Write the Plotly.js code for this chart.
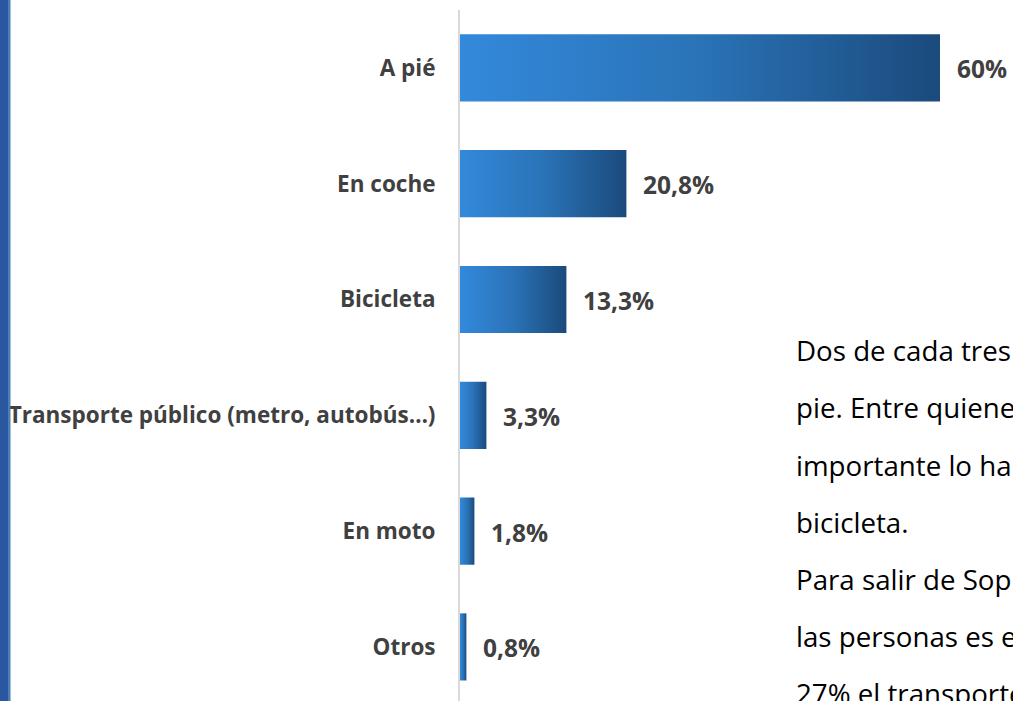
<!DOCTYPE html>
<html>
<head>
<meta charset="utf-8">
<script src="https://cdn.plot.ly/plotly-3.0.1.min.js"></script>
<style>
html,body{margin:0;padding:0;background:#fff;overflow:hidden;}
#chart{width:1013px;height:701px;}
</style>
</head>
<body>
<div id="chart"></div>
<script>
const categories = ["A pié", "En coche", "Bicicleta", "Transporte público (metro, autobús…)", "En moto", "Otros"];
const values = [60, 20.8, 13.3, 3.3, 1.8, 0.8];
const valueLabels = ["60%", "20,8%", "13,3%", "3,3%", "1,8%", "0,8%"];
const sideText = ["Dos de cada tres", "pie. Entre quiene", "importante lo ha", "bicicleta.", "Para salir de Sop", "las personas es e", "27% el transporte"];

const W = 1013, H = 701, L = 460, T = 10, B = 0, R = 0;
const plotW = W - L - R, plotH = H - T - B;

const trace = {
  type: 'bar',
  orientation: 'h',
  y: categories,
  x: values,
  marker: {color: '#2b74b8', line: {width: 0}},
  hoverinfo: 'none'
};

const annotations = values.map((v, i) => ({
  x: v, y: categories[i], xref: 'x', yref: 'y',
  text: '<b>' + valueLabels[i] + '</b>',
  showarrow: false, xanchor: 'left', yanchor: 'middle', xshift: 15, yshift: -1,
  font: {family: 'Open Sans', size: 24.5, color: '#404040'}
}));

const lineTops = [350, 407, 465, 522, 579, 636, 693];
sideText.forEach((t, i) => {
  annotations.push({
    xref: 'paper', yref: 'paper',
    x: (794 - L) / plotW, y: 1 - (lineTops[i] - T) / plotH,
    text: t, showarrow: false, xanchor: 'left', yanchor: 'middle',
    font: {family: 'Open Sans', size: 27.7, color: '#000000'}
  });
});

const layout = {
  width: W, height: H,
  margin: {l: L, r: R, t: T, b: B, pad: 0},
  paper_bgcolor: '#ffffff', plot_bgcolor: '#ffffff',
  bargap: 0.42,
  showlegend: false,
  xaxis: {range: [0, 69.125], visible: false, fixedrange: true},
  yaxis: {
    type: 'category',
    range: [5.467, -0.5],
    showline: true, linecolor: '#d9d9d9', linewidth: 2,
    showgrid: false, zeroline: false,
    ticks: '', ticklabelstandoff: 18,
    tickfont: {family: 'Open Sans', size: 22.5, color: '#404040', weight: 'bold'},
    fixedrange: true
  },
  annotations: annotations,
  shapes: [
    {type: 'rect', xref: 'paper', yref: 'paper', x0: (0 - L) / plotW, x1: (8 - L) / plotW, y0: -0.05, y1: 1.05,
     fillcolor: '#2b57a0', line: {width: 0}, layer: 'above'},
    {type: 'rect', xref: 'paper', yref: 'paper', x0: (8 - L) / plotW, x1: (10.5 - L) / plotW, y0: -0.05, y1: 1.05,
     fillcolor: '#4a7fb5', line: {width: 0}, layer: 'above'}
  ]
};

Plotly.newPlot('chart', [trace], layout, {staticPlot: true, displayModeBar: false}).then(function (gd) {
  const svg = gd.querySelector('svg.main-svg');
  const defs = svg.querySelector('defs');
  const ns = 'http://www.w3.org/2000/svg';
  const grad = document.createElementNS(ns, 'linearGradient');
  grad.setAttribute('id', 'barGrad');
  grad.setAttribute('x1', '0'); grad.setAttribute('y1', '0');
  grad.setAttribute('x2', '1'); grad.setAttribute('y2', '0');
  [['0', '#3389db'], ['0.5', '#2a73b7'], ['1', '#1b4a7c']].forEach(function (s) {
    const st = document.createElementNS(ns, 'stop');
    st.setAttribute('offset', s[0]);
    st.setAttribute('stop-color', s[1]);
    grad.appendChild(st);
  });
  defs.appendChild(grad);
  gd.querySelectorAll('.bars .point path').forEach(function (p) {
    p.style.fill = 'url(#barGrad)';
  });
});
</script>
</body>
</html>
